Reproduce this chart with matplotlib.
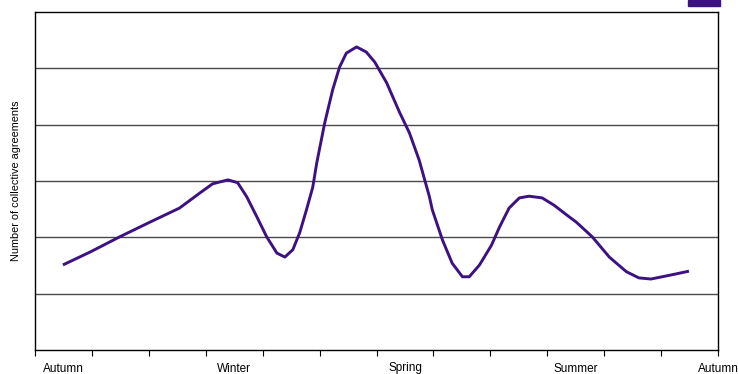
import matplotlib.pyplot as plt
from matplotlib.patches import Rectangle

plt.rcParams['font.family'] = ['Liberation Sans', 'DejaVu Sans']

# curve (x in months from the first tick, y in grid units)
month = [0.49, 0.97, 1.49, 2.02, 2.54, 2.90, 3.12, 3.39, 3.56, 3.72, 3.90, 4.07,
         4.25, 4.39, 4.53, 4.65, 4.77, 4.88, 4.95, 5.09, 5.23, 5.35, 5.47, 5.65,
         5.82, 5.97, 6.18, 6.40, 6.58, 6.75, 6.93, 6.98, 7.16, 7.33, 7.51, 7.63,
         7.81, 8.02, 8.16, 8.33, 8.51, 8.68, 8.91, 9.12, 9.39, 9.51, 9.79, 10.09,
         10.39, 10.61, 10.82, 11.02, 11.26, 11.49]
agreements = [1.51, 1.74, 2.01, 2.27, 2.52, 2.79, 2.95, 3.02, 2.97, 2.72, 2.36, 2.01,
              1.72, 1.65, 1.78, 2.08, 2.49, 2.89, 3.32, 4.03, 4.62, 5.02, 5.27, 5.38,
              5.29, 5.11, 4.74, 4.23, 3.85, 3.37, 2.72, 2.49, 1.95, 1.54, 1.30, 1.30,
              1.51, 1.86, 2.18, 2.52, 2.70, 2.73, 2.70, 2.57, 2.36, 2.27, 2.01, 1.65,
              1.39, 1.28, 1.26, 1.30, 1.35, 1.40]

season_pos = [0.5, 3.5, 6.5, 9.5, 12]
season_labels = ['Autumn', 'Winter', 'Spring', 'Summer', 'Autumn']

purple = '#3c1281'

fig = plt.figure(figsize=(7.38, 3.74), dpi=100)
ax = fig.add_axes([35 / 738, 24 / 374, 683 / 738, 338 / 374])

for g in range(1, 6):
    ax.axhline(g, color='#4a4a4a', lw=1, zorder=1)

ax.plot(month, agreements, color=purple, lw=2.1, solid_joinstyle='round',
        solid_capstyle='butt', zorder=3)

ax.set_xlim(0, 12)
ax.set_ylim(0, 6)
ax.xaxis.remove_overlapping_locs = False
ax.set_xticks(range(13))
ax.set_xticklabels([])
ax.tick_params(axis='x', which='major', direction='out', length=4, width=0.8)
ax.set_xticks(season_pos, minor=True)
ax.set_xticklabels(season_labels, minor=True, fontsize=8.5)
ax.tick_params(axis='x', which='minor', length=0, pad=9)
ax.set_yticks([])
ax.set_ylabel('Number of collective agreements', fontsize=7.8, labelpad=10)

for s in ax.spines.values():
    s.set_linewidth(1)
    s.set_color('black')

# cropped legend key at the top right
fig.patches.append(Rectangle((688 / 738, 368 / 374), 32 / 738, 6 / 374,
                             transform=fig.transFigure, color=purple))

fig.savefig('out.png', dpi=100)
